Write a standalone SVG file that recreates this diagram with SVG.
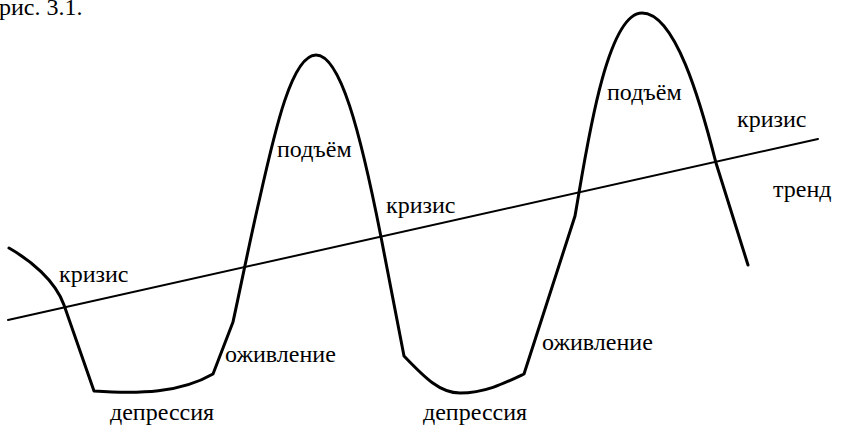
<svg xmlns="http://www.w3.org/2000/svg" width="842" height="428" viewBox="0 0 842 428">
<rect width="842" height="428" fill="#fff"/>
<text id="caption" x="-1" y="15" font-family="Liberation Serif, serif" font-size="24">рис. 3.1.</text>
<g id="connectors" fill="none" stroke="#000" stroke-linejoin="round" stroke-linecap="round">
<path id="trend-line" stroke-width="2" d="M8,320 L818,139"/>
<path id="cycle" stroke-width="3" d="M9,248 C30,260 55,280 64,305 L94,391 C140,394 180,393 213,374 L233,322 C240,290 250,240 260,197 C275,130 292,55 316,55 C340,55 360,130 381,237 L404,356 C425,378 440,393 460,393 C485,393 505,383 524,374 L575,216 C585,160 605,13 642,13 C675,13 700,100 716,163 L748,265"/>
</g>
<g id="labels" font-family="Liberation Serif, serif" font-size="24">
<text x="59" y="282">кризис</text>
<text x="110" y="420">депрессия</text>
<text x="225" y="362">оживление</text>
<text x="277" y="157">подъём</text>
<text x="386" y="213">кризис</text>
<text x="423" y="420">депрессия</text>
<text x="542" y="350">оживление</text>
<text x="607" y="100">подъём</text>
<text x="737" y="127">кризис</text>
<text x="773" y="197">тренд</text>
</g>
</svg>
